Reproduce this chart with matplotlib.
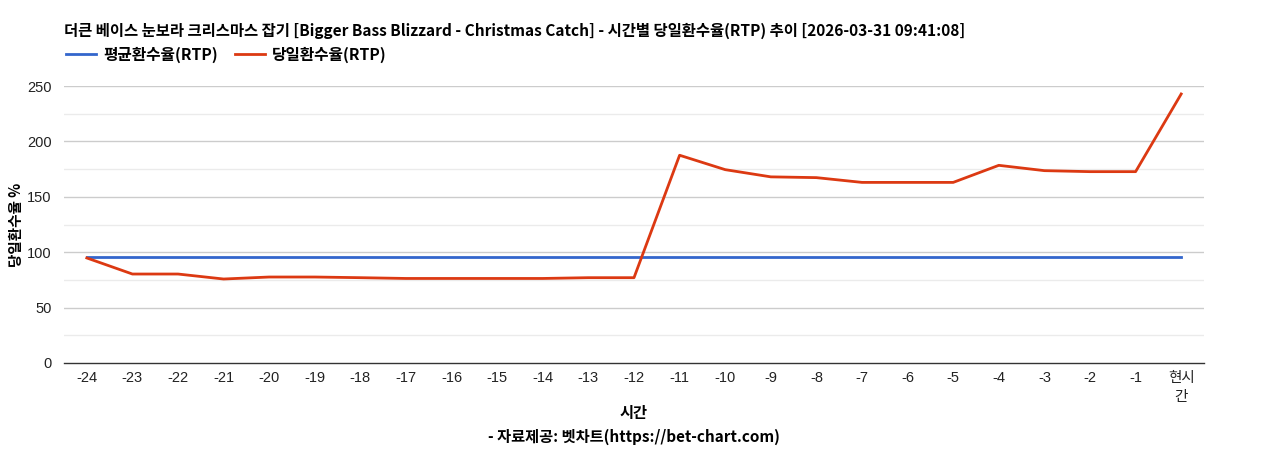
import matplotlib
matplotlib.use("Agg")
import matplotlib.pyplot as plt
from matplotlib.lines import Line2D

plt.rcParams['font.family'] = ['Liberation Sans', 'Noto Sans CJK KR', 'DejaVu Sans']

categories = ['-24', '-23', '-22', '-21', '-20', '-19', '-18', '-17', '-16', '-15', '-14', '-13',
              '-12', '-11', '-10', '-9', '-8', '-7', '-6', '-5', '-4', '-3', '-2', '-1', '현시\n간']
avg_rtp = [95.8] * 25
day_rtp = [94.8, 80.3, 80.3, 75.8, 77.6, 77.6, 77.0, 76.3, 76.3, 76.3, 76.3, 77.0,
           77.0, 187.5, 174.5, 168.0, 167.3, 163.0, 163.0, 163.0, 178.4, 173.6, 172.7, 172.7, 242.8]

title = '더큰 베이스 눈보라 크리스마스 잡기 [Bigger Bass Blizzard - Christmas Catch] - 시간별 당일환수율(RTP) 추이 [2026-03-31 09:41:08]'
blue = '#3366cc'
red = '#dc3912'

fig = plt.figure(figsize=(12.68, 4.5), dpi=100)
ax = fig.add_axes([64/1268, 1-363/450, (1204-64)/1268, (363-86)/450])

x = list(range(len(categories)))
for v in range(0, 251, 25):
    if v == 0:
        continue
    ax.axhline(v, color='#cccccc' if v % 50 == 0 else '#ebebeb', lw=1, zorder=0)
ax.plot(x, avg_rtp, color=blue, lw=2, zorder=3)
ax.plot(x, day_rtp, color=red, lw=2, zorder=4)

ax.set_xlim(-0.5, len(categories) - 0.5)
ax.set_ylim(0, 250)
ax.set_yticks(range(0, 251, 50))
ax.set_xticks(x)
ax.set_xticklabels(categories, va='top', linespacing=1.45)
ax.tick_params(axis='both', length=0, labelsize=10.5, colors='#222222')
ax.tick_params(axis='x', pad=6)
ax.tick_params(axis='y', pad=9)
for s in ['top', 'right', 'left']:
    ax.spines[s].set_visible(False)
ax.spines['bottom'].set_color('#333333')
ax.spines['bottom'].set_linewidth(1)

ax.set_ylabel('당일환수율 %', fontsize=10.5, fontweight='bold', family=['Noto Sans CJK KR', 'DejaVu Sans'], labelpad=2)

fig.text(64/1268, 1-31/450, title, fontsize=11.1, fontweight='bold', ha='left', va='center',
         family=['Noto Sans CJK KR', 'DejaVu Sans'], color='#000000')

handles = [Line2D([0], [0], color=blue, lw=2), Line2D([0], [0], color=red, lw=2)]
leg = fig.legend(handles, ['평균환수율(RTP)', '당일환수율(RTP)'], loc='center left',
                 bbox_to_anchor=(52/1268, 1-55/450), ncol=2, frameon=False,
                 handlelength=1.9, handletextpad=0.45, columnspacing=1.1,
                 prop={'family': ['Noto Sans CJK KR', 'DejaVu Sans'], 'weight': 'bold', 'size': 11.3})

fig.text((64+1204)/2/1268, 1-413/450, '시간', fontsize=11, fontweight='bold', ha='center', va='center',
         family=['Noto Sans CJK KR', 'DejaVu Sans'])
fig.text((64+1204)/2/1268, 1-437/450, '- 자료제공: 벳차트(https://bet-chart.com)', fontsize=11,
         fontweight='bold', ha='center', va='center', family=['Noto Sans CJK KR', 'DejaVu Sans'])

fig.savefig('out.png', dpi=100)
